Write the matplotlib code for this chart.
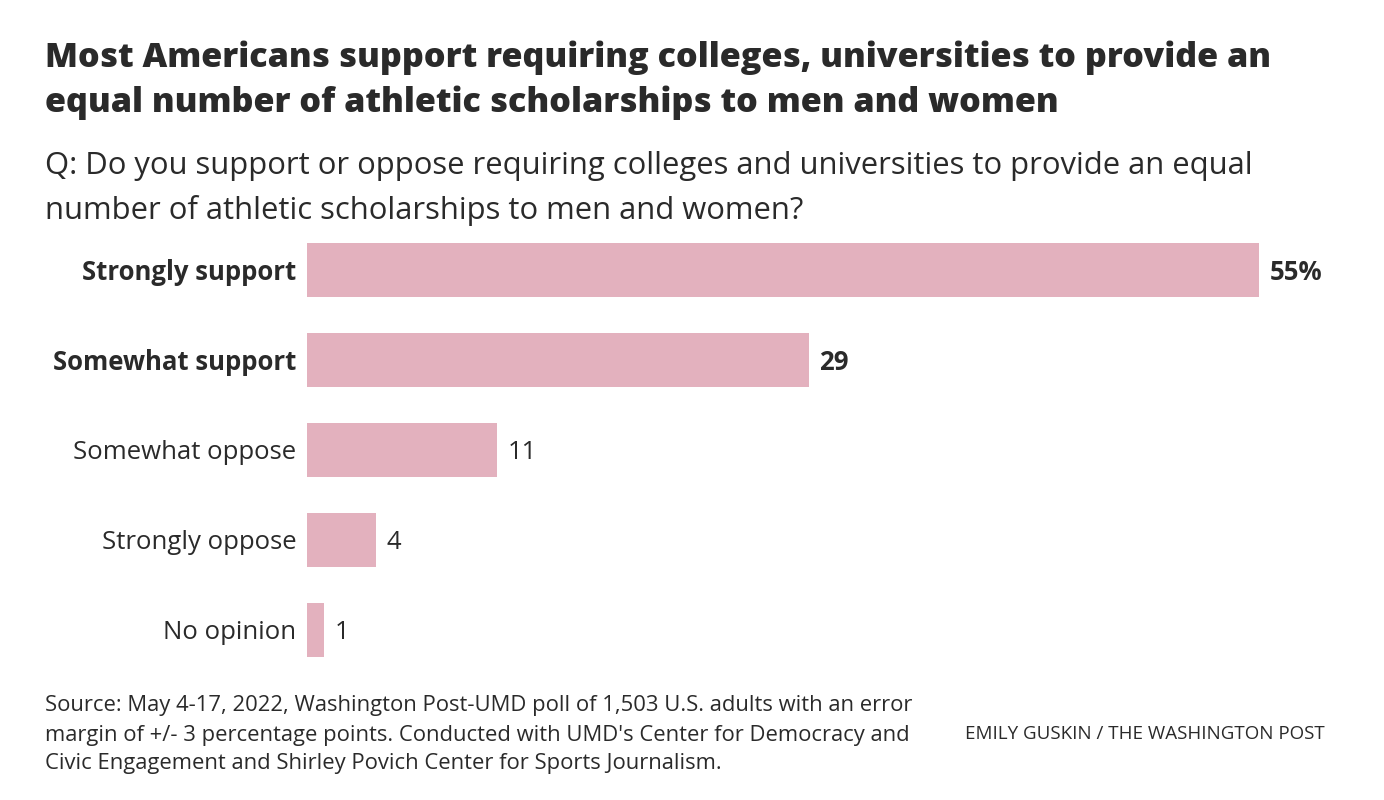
import matplotlib
matplotlib.use("Agg")
import matplotlib.pyplot as plt

plt.rcParams['font.family'] = ['Open Sans', 'DejaVu Sans']

categories = ["Strongly support", "Somewhat support", "Somewhat oppose", "Strongly oppose", "No opinion"]
values = [55, 29, 11, 4, 1]
value_labels = ["55%", "29", "11", "4", "1"]
bold = [True, True, False, False, False]

text_color = '#2a2a2a'
bar_color = '#e3b1be'

fig = plt.figure(figsize=(13.84, 8), dpi=100)
ax = fig.add_axes([307 / 1384, 1 - 675 / 800, 952 / 1384, 450 / 800])

y = list(range(len(categories)))
ax.barh(y, values, height=0.6, color=bar_color)
ax.set_xlim(0, 55)
ax.set_ylim(4.5, -0.5)

# nudge text a few pixels down so it sits centred on the bars
for i, (v, lab, b) in enumerate(zip(values, value_labels, bold)):
    w = 'bold' if b else 'normal'
    ax.text(v + 0.6, i + 0.03, lab, va='center', ha='left', fontsize=18.5,
            fontweight=w, color=text_color)
    ax.text(-0.6, i + 0.03, categories[i], va='center', ha='right', fontsize=18.5,
            fontweight=w, color=text_color)

ax.set_xticks([])
ax.set_yticks([])
for s in ax.spines.values():
    s.set_visible(False)

# title and question
fig.text(45 / 1384, 1 - 58 / 800, "Most Americans support requiring colleges, universities to provide an",
         fontsize=24.6, fontweight='extra bold', color=text_color, va='center')
fig.text(45 / 1384, 1 - 103 / 800, "equal number of athletic scholarships to men and women",
         fontsize=24.6, fontweight='extra bold', color=text_color, va='center')
fig.text(45 / 1384, 1 - 166 / 800, "Q: Do you support or oppose requiring colleges and universities to provide an equal",
         fontsize=22.3, color=text_color, va='center')
fig.text(45 / 1384, 1 - 210 / 800, "number of athletic scholarships to men and women?",
         fontsize=22.3, color=text_color, va='center')

# footer
source = ["Source: May 4-17, 2022, Washington Post-UMD poll of 1,503 U.S. adults with an error",
          "margin of +/- 3 percentage points. Conducted with UMD's Center for Democracy and",
          "Civic Engagement and Shirley Povich Center for Sports Journalism."]
for k, line in enumerate(source):
    fig.text(45 / 1384, 1 - (706 + 29 * k) / 800, line, fontsize=15.8,
             color=text_color, va='center')
fig.text(1325 / 1384, 1 - 734 / 800, "EMILY GUSKIN / THE WASHINGTON POST",
         fontsize=13.5, color=text_color, va='center', ha='right')

fig.savefig("out.png", dpi=100, facecolor='white')
